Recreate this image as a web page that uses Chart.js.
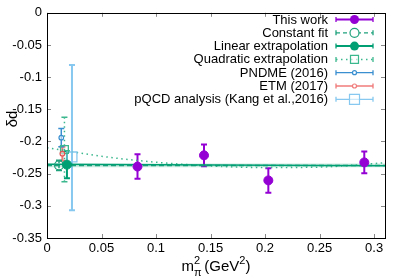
<!DOCTYPE html>
<html><head><meta charset="utf-8">
<script src="https://cdn.jsdelivr.net/npm/chart.js@4/dist/chart.umd.min.js"></script>
<style>html,body{margin:0;padding:0;background:#fff}canvas{display:block}</style>
</head><body>
<canvas id="c" width="399" height="279"></canvas>
<script>
// ---- data ----
const xTickVals = [0, 0.05, 0.1, 0.15, 0.2, 0.25, 0.3];
const xTickLabels = ["0", "0.05", "0.1", "0.15", "0.2", "0.25", "0.3"];
const yTickVals = [0, -0.05, -0.1, -0.15, -0.2, -0.25, -0.3, -0.35];
const yTickLabels = ["0", "-0.05", "-0.1", "-0.15", "-0.2", "-0.25", "-0.3", "-0.35"];

const thisWorkX = [0.083, 0.144, 0.203, 0.291];
const thisWorkY = [-0.239, -0.2215, -0.2605, -0.2325];
const thisWorkErr = [0.019, 0.017, 0.019, 0.017];

const constFitX = [0.011];
const constFitY = [-0.237];
const constFitErr = [0.008];
const constLineX = [0, 0.31];
const constLineY = [-0.2372, -0.2372];

const linX = [0.0183];
const linY = [-0.236];
const linErr = [0.021];
const linLineX = [0, 0.31];
const linLineY = [-0.2352, -0.2378];

const quadX = [0.016];
const quadY = [-0.2125];
const quadErr = [0.05];
const quadCurveX = [0, 0.05, 0.1, 0.15, 0.2, 0.25, 0.31];
const quadCurveY = [-0.2096, -0.2230, -0.2322, -0.2380, -0.2405, -0.2398, -0.2330];

const pndmeX = [0.0131];
const pndmeY = [-0.194];
const pndmeErr = [0.014];

const etmX = [0.0141];
const etmY = [-0.219];
const etmErr = [0.011];

const pqcdX = [0.0229];
const pqcdY = [-0.224];
const pqcdErrUp = [0.143];
const pqcdErrDown = [0.083];

const legendLabels = ["This work", "Constant fit", "Linear extrapolation", "Quadratic extrapolation",
  "PNDME (2016)", "ETM (2017)", "pQCD analysis (Kang et al.,2016)"];

// ---- styles ----
const C_PURPLE = '#9400d3';
const C_LIN = '#009e73';
const C_CONST = '#1fa27c';
const C_QUAD = '#3cb88e';
const C_PNDME = '#3a8fd0';
const C_ETM = '#f07a7a';
const C_PQCD = '#86c8ef';
const FONT = '"Liberation Sans", Arial, sans-serif';

const pts = (xs, ys) => xs.map((x, i) => ({x: x, y: ys[i]}));

const errSpecs = [
  {xs: pqcdX, ys: pqcdY, up: pqcdErrUp, dn: pqcdErrDown, color: C_PQCD, lw: 2, dash: [], cap: 3},
  {xs: quadX, ys: quadY, up: quadErr, dn: quadErr, color: C_QUAD, lw: 1.5, dash: [1.5, 3], cap: 3},
  {xs: etmX, ys: etmY, up: etmErr, dn: etmErr, color: C_ETM, lw: 2, dash: [], cap: 3},
  {xs: pndmeX, ys: pndmeY, up: pndmeErr, dn: pndmeErr, color: C_PNDME, lw: 1.5, dash: [], cap: 3},
  {xs: constFitX, ys: constFitY, up: constFitErr, dn: constFitErr, color: C_CONST, lw: 1.5, dash: [3, 2], cap: 3},
  {xs: linX, ys: linY, up: linErr, dn: linErr, color: C_LIN, lw: 2, dash: [], cap: 3},
  {xs: thisWorkX, ys: thisWorkY, up: thisWorkErr, dn: thisWorkErr, color: C_PURPLE, lw: 2, dash: [], cap: 3}
];

const legendStyles = [
  {color: C_PURPLE, lw: 2, dash: [], marker: 'circleFill', r: 4.5},
  {color: C_CONST, lw: 1.3, dash: [4, 3], marker: 'circle', r: 4.5},
  {color: C_LIN, lw: 2, dash: [], marker: 'circleFill', r: 4.5},
  {color: C_QUAD, lw: 1.5, dash: [1.5, 3.5], marker: 'square', r: 4},
  {color: C_PNDME, lw: 1.3, dash: [], marker: 'circle', r: 2},
  {color: C_ETM, lw: 1.3, dash: [], marker: 'circle', r: 2},
  {color: C_PQCD, lw: 1.3, dash: [], marker: 'square', r: 5}
];

function drawMarker(ctx, type, x, y, r, color) {
  ctx.save();
  ctx.setLineDash([]);
  ctx.strokeStyle = color; ctx.fillStyle = color; ctx.lineWidth = 1.2;
  ctx.beginPath();
  if (type === 'circleFill') { ctx.arc(x, y, r, 0, Math.PI * 2); ctx.fill(); }
  else if (type === 'circle') { ctx.fillStyle = '#fff'; ctx.arc(x, y, r, 0, Math.PI * 2); ctx.fill(); ctx.stroke(); }
  else if (type === 'square') { ctx.fillStyle = 'rgba(255,255,255,0.6)'; ctx.rect(x - r, y - r, 2 * r, 2 * r); ctx.fill(); ctx.stroke(); }
  ctx.restore();
}

const decorPlugin = {
  id: 'decor',
  beforeDatasetsDraw(chart) {
    const ctx = chart.ctx, xs = chart.scales.x, ys = chart.scales.y;
    ctx.save();
    errSpecs.forEach(s => {
      ctx.strokeStyle = s.color; ctx.lineWidth = s.lw; ctx.setLineDash(s.dash);
      s.xs.forEach((xv, i) => {
        const px = xs.getPixelForValue(xv);
        const pt = ys.getPixelForValue(s.ys[i] + s.up[i]);
        const pb = ys.getPixelForValue(s.ys[i] - s.dn[i]);
        ctx.beginPath(); ctx.moveTo(px, pt); ctx.lineTo(px, pb); ctx.stroke();
        ctx.setLineDash([]);
        ctx.beginPath();
        ctx.moveTo(px - s.cap, pt); ctx.lineTo(px + s.cap, pt);
        ctx.moveTo(px - s.cap, pb); ctx.lineTo(px + s.cap, pb);
        ctx.stroke();
        ctx.setLineDash(s.dash);
      });
    });
    ctx.restore();
  },
  afterDraw(chart) {
    const ctx = chart.ctx, a = chart.chartArea, xs = chart.scales.x, ys = chart.scales.y;
    ctx.save();
    ctx.strokeStyle = '#888'; ctx.lineWidth = 1;
    xTickVals.forEach(v => {
      const p = Math.round(xs.getPixelForValue(v)) + 0.5;
      ctx.beginPath();
      ctx.moveTo(p, a.bottom); ctx.lineTo(p, a.bottom - 4);
      ctx.moveTo(p, a.top); ctx.lineTo(p, a.top + 4);
      ctx.stroke();
    });
    yTickVals.forEach(v => {
      const p = Math.round(ys.getPixelForValue(v)) + 0.5;
      ctx.beginPath();
      ctx.moveTo(a.left, p); ctx.lineTo(a.left + 4, p);
      ctx.moveTo(a.right, p); ctx.lineTo(a.right - 4, p);
      ctx.stroke();
    });
    ctx.strokeStyle = '#000'; ctx.lineWidth = 1;
    ctx.strokeRect(Math.round(a.left) + 0.5, Math.round(a.top) + 0.5, Math.round(a.right - a.left), Math.round(a.bottom - a.top));

    // legend
    ctx.font = '13px ' + FONT;
    ctx.textAlign = 'right'; ctx.textBaseline = 'middle';
    legendLabels.forEach((lab, i) => {
      const y = 19.5 + i * 13.3;
      ctx.fillStyle = '#000';
      ctx.fillText(lab, 328, y + 0.5);
      const st = legendStyles[i];
      const x0 = 336, x1 = 373, xc = (x0 + x1) / 2;
      ctx.strokeStyle = st.color; ctx.lineWidth = st.lw; ctx.setLineDash(st.dash);
      ctx.beginPath(); ctx.moveTo(x0, y); ctx.lineTo(x1, y); ctx.stroke();
      ctx.setLineDash([]);
      ctx.lineWidth = 1.3;
      ctx.beginPath(); ctx.moveTo(x0, y - 2.5); ctx.lineTo(x0, y + 2.5); ctx.moveTo(x1, y - 2.5); ctx.lineTo(x1, y + 2.5); ctx.stroke();
      drawMarker(ctx, st.marker, xc, y, st.r, st.color);
    });

    // y title
    ctx.save();
    ctx.translate(13, 119);
    ctx.rotate(-Math.PI / 2);
    ctx.textAlign = 'center'; ctx.textBaseline = 'middle';
    ctx.font = '15px ' + FONT;
    ctx.fillStyle = '#000';
    ctx.fillText('δd', 0, 0);
    ctx.restore();

    // x title: m_π^2 (GeV^2)
    const big = '15px ' + FONT, small = '11px ' + FONT;
    const parts = [
      {t: 'm', f: big, dy: 0},
      {t: 'π', f: small, dy: 5, noAdvance: true},
      {t: '2', f: small, dy: -7},
      {t: ' (GeV', f: big, dy: 0},
      {t: '2', f: small, dy: -7},
      {t: ')', f: big, dy: 0}
    ];
    let w = 0;
    parts.forEach(p => { ctx.font = p.f; p.w = ctx.measureText(p.t).width; if (!p.noAdvance) w += p.w; });
    let x = (a.left + a.right) / 2 - w / 2;
    const base = 271;
    ctx.textAlign = 'left'; ctx.textBaseline = 'alphabetic'; ctx.fillStyle = '#000';
    parts.forEach(p => {
      ctx.font = p.f;
      ctx.fillText(p.t, x, base + p.dy);
      if (!p.noAdvance) x += p.w;
    });
    ctx.restore();
  }
};

new Chart(document.getElementById('c'), {
  type: 'scatter',
  data: {
    datasets: [
      {type: 'line', data: pts(constLineX, constLineY.map(v => v + 0.003)), borderWidth: 0, pointRadius: 0, fill: false, order: 20},
      {type: 'line', data: pts(constLineX, constLineY.map(v => v - 0.003)), borderWidth: 0, pointRadius: 0,
        fill: '-1', backgroundColor: 'rgba(31,162,124,0.22)', order: 19},
      {type: 'line', label: 'quad curve', data: pts(quadCurveX, quadCurveY), borderColor: C_QUAD, borderWidth: 1.5,
        borderDash: [1.5, 3.5], pointRadius: 0, cubicInterpolationMode: 'monotone', fill: false, order: 18},
      {type: 'line', label: 'const line', data: pts(constLineX, constLineY), borderColor: C_CONST, borderWidth: 1.5,
        borderDash: [5, 3], pointRadius: 0, fill: false, order: 17},
      {type: 'line', label: 'lin line', data: pts(linLineX, linLineY), borderColor: C_LIN, borderWidth: 1.5,
        pointRadius: 0, fill: false, order: 16},
      {label: 'pQCD', data: pts(pqcdX, pqcdY), pointStyle: 'rect', pointRadius: 7, borderColor: C_PQCD,
        backgroundColor: 'rgba(255,255,255,0)', borderWidth: 1.3, order: 10},
      {label: 'Quadratic', data: pts(quadX, quadY), pointStyle: 'rect', pointRadius: 5.5, borderColor: C_QUAD,
        backgroundColor: 'rgba(255,255,255,0)', borderWidth: 1.3, order: 9},
      {label: 'ETM', data: pts(etmX, etmY), pointStyle: 'circle', pointRadius: 2.3, borderColor: '#e25555',
        backgroundColor: 'rgba(255,255,255,0.5)', borderWidth: 1.2, order: 8},
      {label: 'PNDME', data: pts(pndmeX, pndmeY), pointStyle: 'circle', pointRadius: 2.3, borderColor: C_PNDME,
        backgroundColor: 'rgba(255,255,255,0.5)', borderWidth: 1.2, order: 7},
      {label: 'Constant fit', data: pts(constFitX, constFitY), pointStyle: 'circle', pointRadius: 4.5, borderColor: C_CONST,
        backgroundColor: 'rgba(255,255,255,0)', borderWidth: 1.2, order: 6},
      {label: 'Linear', data: pts(linX, linY), pointStyle: 'circle', pointRadius: 4.5, borderColor: C_LIN,
        backgroundColor: C_LIN, borderWidth: 1, order: 5},
      {label: 'This work', data: pts(thisWorkX, thisWorkY), pointStyle: 'circle', pointRadius: 4.5, borderColor: C_PURPLE,
        backgroundColor: C_PURPLE, borderWidth: 1, order: 4}
    ]
  },
  options: {
    responsive: false,
    animation: false,
    devicePixelRatio: 1,
    layout: {padding: {top: 10, right: 14, left: 0, bottom: 0}},
    plugins: {legend: {display: false}, tooltip: {enabled: false}},
    scales: {
      x: {
        type: 'linear', min: 0, max: 0.31,
        grid: {display: false, drawTicks: false},
        border: {display: false},
        afterBuildTicks: s => { s.ticks = xTickVals.map(v => ({value: v})); },
        afterFit: s => { s.height = 41; },
        ticks: {
          padding: 3, color: '#000', font: {family: FONT, size: 13}, maxRotation: 0, autoSkip: false,
          callback: (v, i) => xTickLabels[i]
        }
      },
      y: {
        type: 'linear', min: -0.35, max: 0,
        grid: {display: false, drawTicks: false},
        border: {display: false},
        afterBuildTicks: s => { s.ticks = yTickVals.map(v => ({value: v})); },
        afterFit: s => { s.width = 47; },
        ticks: {
          padding: 5, color: '#000', font: {family: FONT, size: 13}, autoSkip: false,
          callback: (v, i) => yTickLabels[i]
        }
      }
    }
  },
  plugins: [decorPlugin]
});
</script>
</body></html>
